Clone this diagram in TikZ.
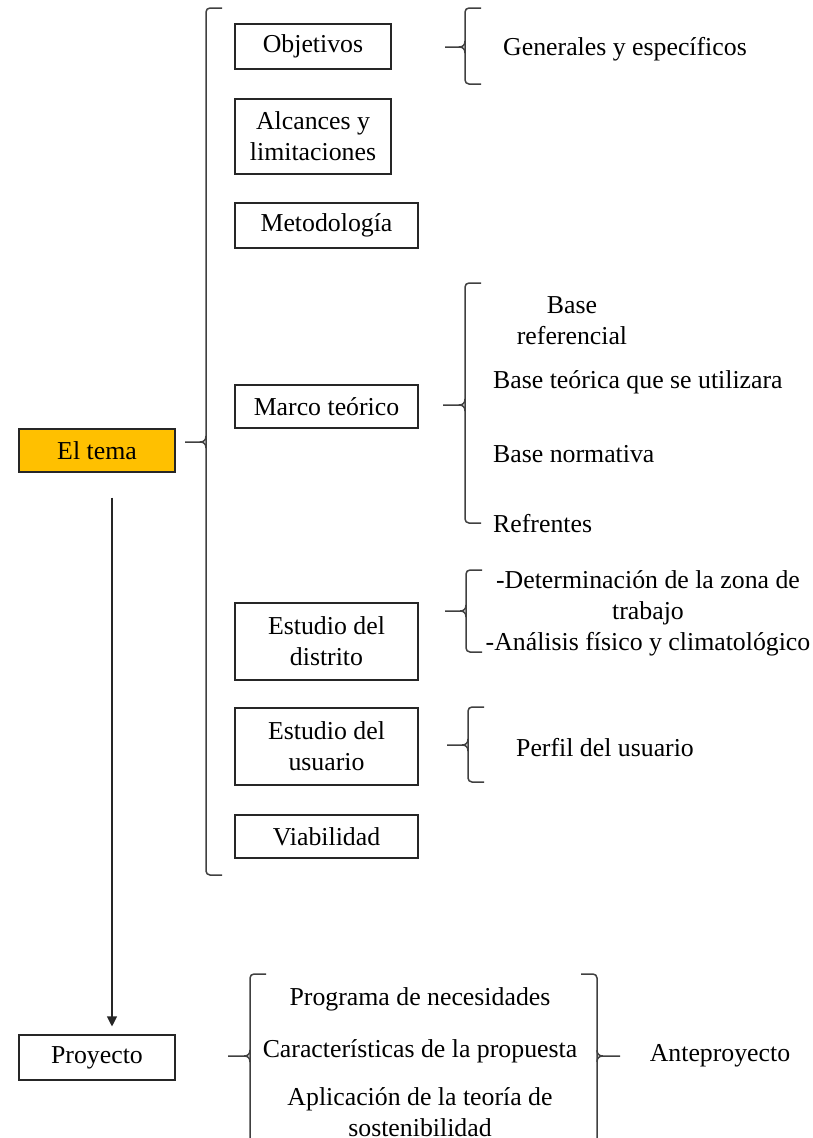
\documentclass[tikz,border=0pt]{standalone}
\usepackage{fontspec}
\setmainfont{Liberation Serif}
\usetikzlibrary{positioning,arrows.meta}
\definecolor{tema}{HTML}{FFC000}
% brace: [side] x, top, bottom, tip x, tip y
\newcommand{\llave}[6][1]{%
\draw [llave, rounded corners=4pt] (#2+#1*16,#3) -- (#2,#3) -- (#2,#4) -- (#2+#1*16,#4);
\draw [llave] (#5,#6) -- (#2-#1*6,#6) .. controls (#2-#1*2,#6) and (#2,#6-2) .. (#2,#6-6);
\draw [llave] (#2-#1*6,#6) .. controls (#2-#1*2,#6) and (#2,#6+2) .. (#2,#6+6);}

\begin{document}
\begin{tikzpicture}[x=1pt,y=-1pt,
  every node/.style={font=\fontsize{25.8}{31}\selectfont, inner sep=0pt, align=center},
  caja/.style={draw=black!85, line width=1.1pt},
  llave/.style={draw=black!75, line width=1.5pt},
  texto/.style={yshift=-2.5pt},
  item/.style={texto, anchor=west}]
\useasboundingbox (0,0) rectangle (812,1138);
% left column
\node [caja, fill=tema, minimum width=156pt, minimum height=43pt] (tema) at (97,450.5) {El tema};
\node [caja, minimum width=156pt, minimum height=45pt] (proy) at (97,1057.5) {Proyecto};
\draw [black!85, line width=1.1pt, -{Triangle[length=10pt,width=10pt]}, shorten <=25pt, shorten >=8pt]
  ([xshift=15pt]tema.south) -- ([xshift=15pt]proy.north);
% big brace
\llave{206}{8}{875}{185}{442}
% boxes
\node [caja, minimum width=156pt, minimum height=45pt] (obj) at (313,46.5) {Objetivos};
\node [caja, minimum width=156pt, minimum height=75pt] (alc) at (313,136.5) {Alcances y\\limitaciones};
\node [caja, minimum width=183pt, minimum height=45pt] (met) at (326.5,225.5) {Metodología};
\node [caja, minimum width=183pt, minimum height=43pt] (marco) at (326.5,406.5) {Marco teórico};
\node [caja, minimum width=183pt, minimum height=77pt] (dist) at (326.5,641.5) {Estudio del\\distrito};
\node [caja, minimum width=183pt, minimum height=77pt] (usu) at (326.5,746.5) {Estudio del\\usuario};
\node [caja, minimum width=183pt, minimum height=43pt] (via) at (326.5,836.5) {Viabilidad};
% objetivos
\llave{465}{8}{84}{445}{47}
\node [texto] (gen) at (625,47) {Generales y específicos};
% marco teorico
\llave{465}{283}{523}{443}{405}
\node [texto] (bref) at (572,318) {Base\\referencial};
\node [item] (bteo) at (493,380) {Base teórica que se utilizara};
\node [item] (bnor) at (493,452) {Base normativa};
\node [item] (refr) at (493,521) {Refrentes};
% distrito
\llave{466}{570}{652}{445}{611}
\node [texto] (zona) at (648,611) {-Determinación de la zona de\\trabajo\\-Análisis físico y climatológico};
% usuario
\llave{468}{707}{782}{447}{745}
\node [texto] (perf) at (605,745) {Perfil del usuario};
% proyecto
\llave{250}{974}{1160}{228}{1056}
\llave[-1]{597}{974}{1160}{620}{1056}
\node [texto] (prog) at (420,997) {Programa de necesidades};
\node [texto] (carac) at (420,1049) {Características de la propuesta};
\node [texto] (apli) at (420,1110) {Aplicación de la teoría de\\sostenibilidad};
\node [texto] (ante) at (720,1053) {Anteproyecto};
\end{tikzpicture}
\end{document}
